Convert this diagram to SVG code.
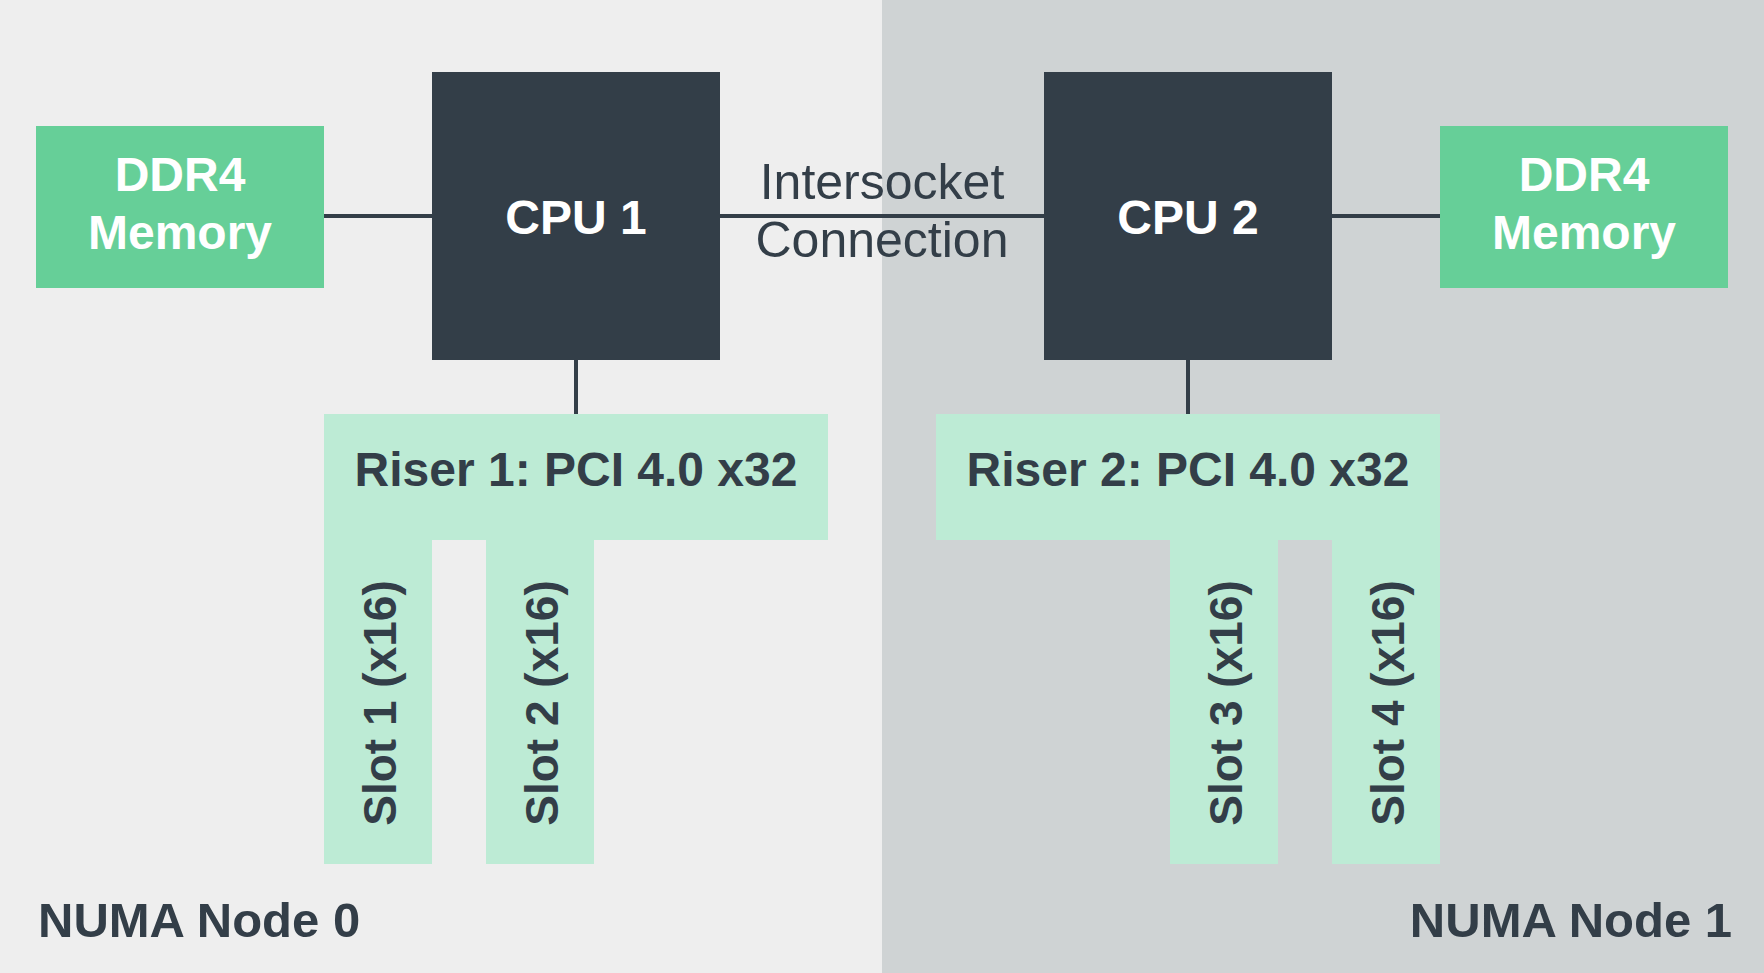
<svg xmlns="http://www.w3.org/2000/svg" width="1764" height="973" viewBox="0 0 1764 973">
<style>
.bg0{fill:#eeeeee}
.bg1{fill:#cfd3d4}
.mem{fill:#66cf98}
.cpu{fill:#333e48}
.riser{fill:#bdebd5}
.wt{font-family:"Liberation Sans",Arial,sans-serif;font-weight:bold;font-size:48px;fill:#ffffff;text-anchor:middle}
.dt{font-family:"Liberation Sans",Arial,sans-serif;font-weight:bold;font-size:48px;fill:#333e48}
.st{font-family:"Liberation Sans",Arial,sans-serif;font-weight:bold;font-size:46px;fill:#333e48;text-anchor:middle}
.nt{font-family:"Liberation Sans",Arial,sans-serif;font-weight:bold;font-size:49px;fill:#333e48}
.lbl{font-family:"Liberation Sans",Arial,sans-serif;font-size:50px;fill:#333e48;text-anchor:middle}
.conn{stroke:#333e48;stroke-width:4;fill:none}
</style>
<g id="background">
<rect class="bg0" x="0" y="0" width="882" height="973"/>
<rect class="bg1" x="882" y="0" width="882" height="973"/>
</g>
<g id="connectors">
<line class="conn" x1="324" y1="216" x2="432" y2="216"/>
<line class="conn" x1="720" y1="216" x2="1044" y2="216"/>
<line class="conn" x1="1332" y1="216" x2="1440" y2="216"/>
<line class="conn" x1="576" y1="360" x2="576" y2="414"/>
<line class="conn" x1="1188" y1="360" x2="1188" y2="414"/>
</g>
<g id="intersocket-label">
<text class="lbl" x="882" y="199">Intersocket</text>
<text class="lbl" x="882" y="257">Connection</text>
</g>
<g id="ddr4-left">
<rect class="mem" x="36" y="126" width="288" height="162"/>
<text class="wt" x="180" y="191">DDR4</text>
<text class="wt" x="180" y="249">Memory</text>
</g>
<g id="cpu1">
<rect class="cpu" x="432" y="72" width="288" height="288"/>
<text class="wt" x="576" y="234">CPU 1</text>
</g>
<g id="cpu2">
<rect class="cpu" x="1044" y="72" width="288" height="288"/>
<text class="wt" x="1188" y="234">CPU 2</text>
</g>
<g id="ddr4-right">
<rect class="mem" x="1440" y="126" width="288" height="162"/>
<text class="wt" x="1584" y="191">DDR4</text>
<text class="wt" x="1584" y="249">Memory</text>
</g>
<g id="riser1">
<rect class="riser" x="324" y="414" width="504" height="126"/>
<text class="dt" x="576" y="486" text-anchor="middle">Riser 1: PCI 4.0 x32</text>
</g>
<g id="slot1">
<rect class="riser" x="324" y="539" width="108" height="325"/>
<text class="st" transform="translate(396,703) rotate(-90)">Slot 1 (x16)</text>
</g>
<g id="slot2">
<rect class="riser" x="486" y="539" width="108" height="325"/>
<text class="st" transform="translate(558,703) rotate(-90)">Slot 2 (x16)</text>
</g>
<g id="riser2">
<rect class="riser" x="936" y="414" width="504" height="126"/>
<text class="dt" x="1188" y="486" text-anchor="middle">Riser 2: PCI 4.0 x32</text>
</g>
<g id="slot3">
<rect class="riser" x="1170" y="539" width="108" height="325"/>
<text class="st" transform="translate(1242,703) rotate(-90)">Slot 3 (x16)</text>
</g>
<g id="slot4">
<rect class="riser" x="1332" y="539" width="108" height="325"/>
<text class="st" transform="translate(1404,703) rotate(-90)">Slot 4 (x16)</text>
</g>
<g id="numa0">
<text class="nt" x="38" y="937">NUMA Node 0</text>
</g>
<g id="numa1">
<text class="nt" x="1732" y="937" text-anchor="end">NUMA Node 1</text>
</g>
</svg>
